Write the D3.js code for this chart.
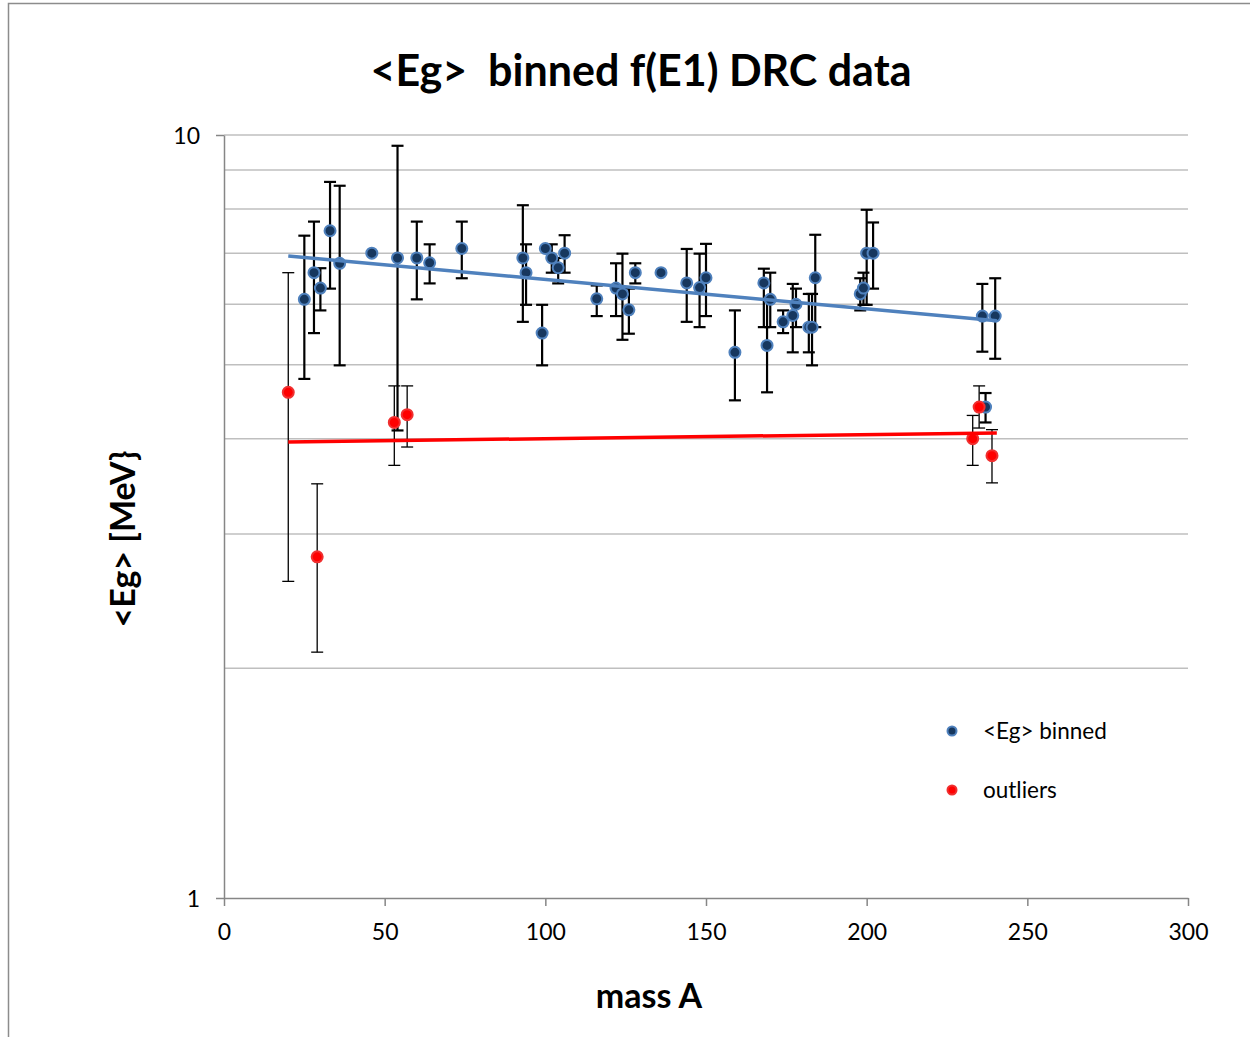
<!DOCTYPE html>
<html>
<head>
<meta charset="utf-8">
<script src="https://cdn.jsdelivr.net/npm/d3@7"></script>
<style>
  body { margin: 0; background: #fff; }
  svg { font-family: Lato, "Open Sans", sans-serif; }
</style>
</head>
<body>
<svg id="chart" width="1250" height="1037"></svg>
<script>
// <Eg> binned series: mass A, value, error bar top, error bar bottom
var binnedA  = [25, 28, 30, 33, 36, 46, 54, 60, 64, 74, 93, 94, 99, 100, 102, 104, 106, 116, 122, 124, 126, 128, 136, 144, 148, 150, 159, 168, 169, 170, 174, 177, 178, 182, 183, 184, 198, 199, 200, 202, 236, 240, 237];
var binnedEg = [6.09, 6.60, 6.30, 7.49, 6.79, 7.00, 6.90, 6.90, 6.80, 7.10, 6.90, 6.60, 5.50, 7.10, 6.90, 6.70, 7.00, 6.10, 6.30, 6.19, 5.90, 6.60, 6.60, 6.40, 6.31, 6.50, 5.19, 6.40, 5.30, 6.09, 5.69, 5.80, 6.00, 5.60, 5.60, 6.50, 6.19, 6.30, 7.00, 7.00, 5.79, 5.79, 4.40];
var binnedHi = [7.38, 7.70, 6.69, 8.68, 8.58, 7.00, 9.68, 7.70, 7.19, 7.70, 8.09, 7.19, 5.99, 7.10, 7.19, 6.90, 7.39, 6.35, 6.79, 6.99, 6.29, 6.79, 6.60, 7.09, 6.99, 7.20, 5.89, 6.68, 6.08, 6.60, 5.89, 6.38, 6.29, 6.19, 6.19, 7.40, 6.49, 6.60, 7.98, 7.68, 6.38, 6.49, 4.59];
var binnedLo = [4.79, 5.50, 5.89, 6.29, 4.99, 7.00, 4.10, 6.09, 6.39, 6.49, 5.69, 5.99, 4.99, 7.10, 6.60, 6.39, 6.60, 5.79, 5.79, 5.39, 5.49, 6.39, 6.60, 5.69, 5.60, 5.79, 4.49, 5.60, 4.60, 5.60, 5.50, 5.19, 5.60, 5.19, 4.99, 5.60, 5.89, 5.99, 5.99, 6.29, 5.20, 5.09, 4.20];

// outliers series
var outlierA  = [20, 29, 53, 57, 235, 233, 239];
var outlierEg = [4.60, 2.80, 4.20, 4.30, 4.40, 4.00, 3.80];
var outlierHi = [6.60, 3.49, 4.69, 4.69, 4.69, 4.29, 4.11];
var outlierLo = [2.60, 2.10, 3.69, 3.90, 4.13, 3.69, 3.50];

// trendlines (read at both ends)
var trendA = [20, 240.5];
var binnedTrend = [6.94, 5.71];
var outlierTrend = [3.96, 4.07];

var xTicks = [0, 50, 100, 150, 200, 250, 300];
var yTicks = [1, 10];
var yGrid = [2, 3, 4, 5, 6, 7, 8, 9, 10];

var svg = d3.select("#chart");

var x = d3.scaleLinear().domain([0, 300]).range([224, 1188]);
var y = d3.scaleLog().domain([1, 10]).range([898, 135]);

// outer chart border
svg.append("rect")
    .attr("x", 8.5).attr("y", 3.5)
    .attr("width", 1300).attr("height", 1100)
    .attr("fill", "none")
    .attr("stroke", "#8c8c8c")
    .attr("stroke-width", 1.5);

// title
svg.append("text")
    .attr("x", 641).attr("y", 86)
    .attr("text-anchor", "middle")
    .style("font-weight", "bold")
    .style("font-size", "43px")
    .attr("xml:space", "preserve")
    .text("<Eg>  binned f(E1) DRC data");

// gridlines
svg.append("g").selectAll("line")
    .data(yGrid)
    .enter().append("line")
    .attr("x1", x(0)).attr("x2", x(300))
    .attr("y1", function(d) { return y(d); })
    .attr("y2", function(d) { return y(d); })
    .attr("stroke", "#bfbfbf")
    .attr("stroke-width", 1.5);

// axes
var xAxis = svg.append("g")
    .attr("transform", "translate(0," + y(1) + ")")
    .call(d3.axisBottom(x).tickValues(xTicks).tickSize(8).tickPadding(18).tickSizeOuter(0));

var yAxis = svg.append("g")
    .attr("transform", "translate(" + x(0) + ",0)")
    .call(d3.axisLeft(y).tickValues(yTicks).tickFormat(d3.format("d")).tickSize(8).tickPadding(16).tickSizeOuter(0));

[xAxis, yAxis].forEach(function(a) {
    a.select(".domain").attr("stroke", "#868686").attr("stroke-width", 1.5);
    a.selectAll(".tick line").attr("stroke", "#868686").attr("stroke-width", 1.5);
    a.selectAll(".tick text")
        .attr("fill", "#000")
        .style("font-size", "23px")
        .style("font-family", "Lato, sans-serif");
});
yAxis.selectAll(".tick text").attr("dy", "0.36em");

// axis titles
svg.append("text")
    .attr("x", 649).attr("y", 1008)
    .attr("text-anchor", "middle")
    .style("font-weight", "bold")
    .style("font-size", "34px")
    .text("mass A");

svg.append("text")
    .attr("transform", "translate(135,539) rotate(-90)")
    .attr("text-anchor", "middle")
    .style("font-weight", "bold")
    .style("font-size", "34px")
    .text("<Eg> [MeV}");

function drawSeries(xs, vals, his, los, opts) {
    var g = svg.append("g");
    var data = xs.map(function(a, i) { return { a: a, v: vals[i], hi: his[i], lo: los[i] }; });

    var bars = g.selectAll(".err")
        .data(data.filter(function(d) { return d.hi !== d.lo; }))
        .enter().append("g")
        .attr("stroke", "#000")
        .attr("stroke-width", opts.errWidth);
    bars.append("line")
        .attr("x1", function(d) { return x(d.a); })
        .attr("x2", function(d) { return x(d.a); })
        .attr("y1", function(d) { return y(d.hi); })
        .attr("y2", function(d) { return y(d.lo); });
    bars.append("line")
        .attr("x1", function(d) { return x(d.a) - 6; })
        .attr("x2", function(d) { return x(d.a) + 6; })
        .attr("y1", function(d) { return y(d.hi); })
        .attr("y2", function(d) { return y(d.hi); });
    bars.append("line")
        .attr("x1", function(d) { return x(d.a) - 6; })
        .attr("x2", function(d) { return x(d.a) + 6; })
        .attr("y1", function(d) { return y(d.lo); })
        .attr("y2", function(d) { return y(d.lo); });

    g.selectAll("circle")
        .data(data)
        .enter().append("circle")
        .attr("cx", function(d) { return x(d.a); })
        .attr("cy", function(d) { return y(d.v); })
        .attr("r", 5.5)
        .attr("fill", opts.fill)
        .attr("stroke", opts.stroke)
        .attr("stroke-width", 2);
}

function drawTrend(vals, color) {
    var pts = trendA.map(function(a, i) { return [a, vals[i]]; });
    svg.append("path")
        .datum(pts)
        .attr("d", d3.line().x(function(d) { return x(d[0]); }).y(function(d) { return y(d[1]); }))
        .attr("fill", "none")
        .attr("stroke", color)
        .attr("stroke-width", 3.5);
}

drawSeries(binnedA, binnedEg, binnedHi, binnedLo, { fill: "#17375e", stroke: "#4f81bd", errWidth: 2.2 });
drawSeries(outlierA, outlierEg, outlierHi, outlierLo, { fill: "#ff0000", stroke: "#f03030", errWidth: 1.3 });
drawTrend(binnedTrend, "#4f81bd");
drawTrend(outlierTrend, "#ff0000");

// legend
var legend = [
    { label: "<Eg> binned", fill: "#17375e", stroke: "#4f81bd", y: 731 },
    { label: "outliers", fill: "#ff0000", stroke: "#f03030", y: 790 }
];
var lg = svg.append("g").selectAll("g").data(legend).enter().append("g");
lg.append("circle")
    .attr("cx", 952).attr("cy", function(d) { return d.y; })
    .attr("r", 4.5)
    .attr("fill", function(d) { return d.fill; })
    .attr("stroke", function(d) { return d.stroke; })
    .attr("stroke-width", 2);
lg.append("text")
    .attr("x", 983).attr("y", function(d) { return d.y; })
    .attr("dy", "0.36em")
    .style("font-size", "22.5px")
    .text(function(d) { return d.label; });
</script>
</body>
</html>
